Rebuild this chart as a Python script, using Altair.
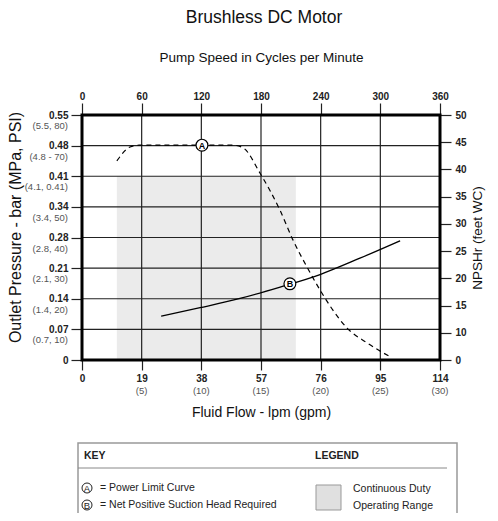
import altair as alt
import pandas as pd

FONT = "Liberation Sans Narrow, Arial Narrow, Liberation Sans, sans-serif"
W, H = 358, 245

# ---- data ----
flow_ticks = [0, 19, 38, 57, 76, 95, 114]
gpm_labels = ["", "(5)", "(10)", "(15)", "(20)", "(25)", "(30)"]
cpm_ticks = [0, 60, 120, 180, 240, 300, 360]
pressure_pos = [0, 0.07, 0.14, 0.21, 0.28, 0.35, 0.42, 0.49, 0.56]
pressure_labels = ["0", "0.07", "0.14", "0.21", "0.28", "0.34", "0.41", "0.48", "0.55"]
pressure_sub = ["", "(0.7, 10)", "(1.4, 20)", "(2.1, 30)", "(2.8, 40)",
                "(3.4, 50)", "(4.1, 0.41)", "(4.8 - 70)", "(5.5, 80)"]
npsh_pos = [5, 10, 15, 20, 25, 30, 35, 40, 45, 50]
npsh_labels = ["0", "10", "15", "20", "25", "30", "35", "40", "45", "50"]

power_flow = [11.1, 15.3, 18.2, 30.0, 40.0, 48.1, 51.3, 56.7, 63.0, 67.2, 71.6, 75.8, 79.9, 84.4, 90.8, 98.7]
power_bar = [0.455, 0.487, 0.491, 0.491, 0.491, 0.491, 0.485, 0.427, 0.343, 0.274, 0.213, 0.160, 0.114, 0.073, 0.039, 0.005]
npsh_flow = [25.2, 37.6, 50.3, 63.1, 75.8, 88.5, 101.3]
npsh_ft = [13.05, 14.6, 16.3, 18.4, 20.7, 23.7, 26.9]
duty_flow = [11.1, 68.1]
duty_bar = [0.0, 0.42]
marker_letters = ["A", "B"]
marker_flow = [38.2, 66.2]
marker_value = [0.491, 19.0]
key_title = ["KEY", "LEGEND"]
key_names = ["= Power Limit Curve", "= Net Positive Suction Head Required"]
legend_lines = ["Continuous Duty", "Operating Range"]
chart_title = "Brushless DC Motor"

X = alt.Scale(domain=[0, 114], nice=False, zero=False)
XT = alt.Scale(domain=[0, 360], nice=False, zero=False)
YL = alt.Scale(domain=[0, 0.56], nice=False, zero=False)
YR = alt.Scale(domain=[5, 50], nice=False, zero=False)

expr = "''"
for p, l in reversed(list(zip(pressure_pos, pressure_labels))):
    expr = f"datum.value == {p} ? '{l}' : " + expr
npsh_expr = "datum.value == 5 ? '0' : datum.label"

LINE = "#222222"
one = pd.DataFrame({"k": [0]})

shade = alt.Chart(pd.DataFrame({"x0": [duty_flow[0]], "x1": [duty_flow[1]],
                                "y0": [duty_bar[0]], "y1": [duty_bar[1]]})).mark_rect(
    color="#ebebeb").encode(
    x=alt.X("x0:Q", scale=X, axis=None), x2="x1",
    y=alt.Y("y0:Q", scale=YL, axis=None), y2="y1")

vgrid = alt.Chart(pd.DataFrame({"f": flow_ticks[1:-1]})).mark_rule(
    color=LINE, strokeWidth=1.2).encode(x=alt.X("f:Q", scale=X, axis=None))
hgrid = alt.Chart(pd.DataFrame({"p": pressure_pos[1:-1]})).mark_rule(
    color=LINE, strokeWidth=1.2).encode(y=alt.Y("p:Q", scale=YL, axis=None))

power = alt.Chart(pd.DataFrame({"f": power_flow, "v": power_bar})).mark_line(
    color="black", strokeWidth=1.2, strokeDash=[5, 4], interpolate="monotone").encode(
    x=alt.X("f:Q", scale=X, axis=None), y=alt.Y("v:Q", scale=YL, axis=None))

npsh = alt.Chart(pd.DataFrame({"f": npsh_flow, "v": npsh_ft})).mark_line(
    color="black", strokeWidth=1.3, interpolate="monotone").encode(
    x=alt.X("f:Q", scale=X, axis=None), y=alt.Y("v:Q", scale=YR, axis=None))

frame = alt.Chart(one).mark_rect(fill=None, stroke="black", strokeWidth=3).encode(
    x=alt.value(0), x2=alt.value(W), y=alt.value(0), y2=alt.value(H))


def marker(i, yscale):
    d = pd.DataFrame({"f": [marker_flow[i]], "v": [marker_value[i]], "t": [marker_letters[i]]})
    base = alt.Chart(d).encode(x=alt.X("f:Q", scale=X, axis=None),
                               y=alt.Y("v:Q", scale=yscale, axis=None))
    c = base.mark_point(shape="circle", filled=True, fill="white", stroke="black",
                        strokeWidth=1.2, size=140, opacity=1)
    t = base.mark_text(font=FONT, fontSize=9, fontWeight="bold", color="black",
                       baseline="middle", dy=0.5).encode(text="t:N")
    return [c, t]


bottom_axis = alt.Chart(pd.DataFrame({"f": flow_ticks})).mark_point(opacity=0).encode(
    x=alt.X("f:Q", scale=X, axis=alt.Axis(
        orient="bottom", values=flow_ticks, format="d", tickSize=10, labelPadding=3,
        title="Fluid Flow - lpm (gpm)", titleX=W / 2, titleY=52, titleBaseline="middle",
        titleFontSize=14)),
    y=alt.value(0))

top_axis = alt.Chart(pd.DataFrame({"c": cpm_ticks})).mark_point(opacity=0).encode(
    x=alt.X("c:Q", scale=XT, axis=alt.Axis(
        orient="top", values=cpm_ticks, format="d", tickSize=12, labelPadding=2,
        title="Pump Speed in Cycles per Minute", titleX=W / 2, titleY=-58,
        titleBaseline="middle", titleFontSize=13.5)),
    y=alt.value(0))

left_axis = alt.Chart(pd.DataFrame({"p": pressure_pos})).mark_point(opacity=0).encode(
    y=alt.Y("p:Q", scale=YL, axis=alt.Axis(
        orient="left", values=pressure_pos, labelExpr=expr, tickSize=11, labelPadding=3,
        title="Outlet Pressure - bar (MPa, PSI)", titleX=-67, titleY=112,
        titleAngle=270, titleBaseline="middle", titleFontSize=16)),
    x=alt.value(0))

right_axis = alt.Chart(pd.DataFrame({"n": npsh_pos})).mark_point(opacity=0).encode(
    y=alt.Y("n:Q", scale=YR, axis=alt.Axis(
        orient="right", values=npsh_pos, labelExpr=npsh_expr, tickSize=11, labelPadding=4,
        title="NPSHr (feet WC)", titleX=37, titleY=H / 2, titleAngle=270,
        titleBaseline="middle", titleFontSize=13.5)),
    x=alt.value(W))

left_sub = alt.Chart(pd.DataFrame({"p": pressure_pos, "t": pressure_sub})).mark_text(
    align="right", baseline="middle", dy=11, fontSize=9.5, color="#555", font=FONT).encode(
    x=alt.value(-14), y=alt.Y("p:Q", scale=YL, axis=None), text="t:N")

bottom_sub = alt.Chart(pd.DataFrame({"f": flow_ticks, "t": gpm_labels})).mark_text(
    align="center", baseline="middle", fontSize=9.5, color="#555", font=FONT).encode(
    x=alt.X("f:Q", scale=X, axis=None), y=alt.value(276), text="t:N")

title = alt.Chart(pd.DataFrame({"t": [chart_title]})).mark_text(
    font=FONT, fontSize=17.5, color="#111", align="center", baseline="middle").encode(
    x=alt.value(182), y=alt.value(-97), text="t:N")


def txt(s, x, y, **kw):
    args = dict(font=FONT, fontSize=10.5, color="#222", align="left", baseline="middle")
    args.update(kw)
    return alt.Chart(pd.DataFrame({"t": [s]})).mark_text(**args).encode(
        x=alt.value(x), y=alt.value(y), text="t:N")


box = alt.Chart(one).mark_rect(fill="white", stroke="#999", strokeWidth=1.5).encode(
    x=alt.value(-4), x2=alt.value(375), y=alt.value(328), y2=alt.value(404))
sep = alt.Chart(one).mark_rule(color="#888", strokeWidth=1).encode(
    x=alt.value(-4), x2=alt.value(365), y=alt.value(353))
swatch = alt.Chart(one).mark_rect(fill="#e0e0e0", stroke="#999", strokeWidth=1).encode(
    x=alt.value(234), x2=alt.value(259), y=alt.value(370), y2=alt.value(395))

key_layers = [box, sep, swatch,
              txt(key_title[0], 2, 341, fontWeight="bold"),
              txt(key_title[1], 233, 341, fontWeight="bold"),
              txt(key_names[0], 18, 373),
              txt(key_names[1], 18, 390),
              txt(legend_lines[0], 271, 374),
              txt(legend_lines[1], 271, 391)]
for i, yy in enumerate([373, 390]):
    d = pd.DataFrame({"t": [marker_letters[i]]})
    key_layers.append(alt.Chart(d).mark_point(
        shape="circle", filled=True, fill="white", stroke="#222", strokeWidth=1,
        size=100, opacity=1).encode(x=alt.value(5), y=alt.value(yy)))
    key_layers.append(alt.Chart(d).mark_text(
        font=FONT, fontSize=9.5, color="#222", baseline="middle", dy=0.5).encode(
        x=alt.value(5), y=alt.value(yy), text="t:N"))

layers = [shade, vgrid, hgrid, power, npsh, frame] + marker(0, YL) + marker(1, YR) + [
    bottom_axis, top_axis, left_axis, right_axis, left_sub, bottom_sub, title] + key_layers

chart = alt.layer(*layers).resolve_scale(x="independent", y="independent").properties(
    width=W, height=H,
    padding={"left": 74, "top": 107, "right": 50, "bottom": 153},
    autosize=alt.AutoSizeParams(type="none"),
).configure_view(stroke=None).configure_axis(
    labelFont=FONT, titleFont=FONT, labelFontWeight="bold", labelFontSize=10,
    labelColor="#222", titleFontSize=14, titleFontWeight="normal", titleColor="#111",
    tickColor="#222", tickWidth=1.2, domain=False, grid=False, labelFlush=False,
    labelOverlap=False)

chart.save("out.html", embed_options={"renderer": "svg", "actions": False})
